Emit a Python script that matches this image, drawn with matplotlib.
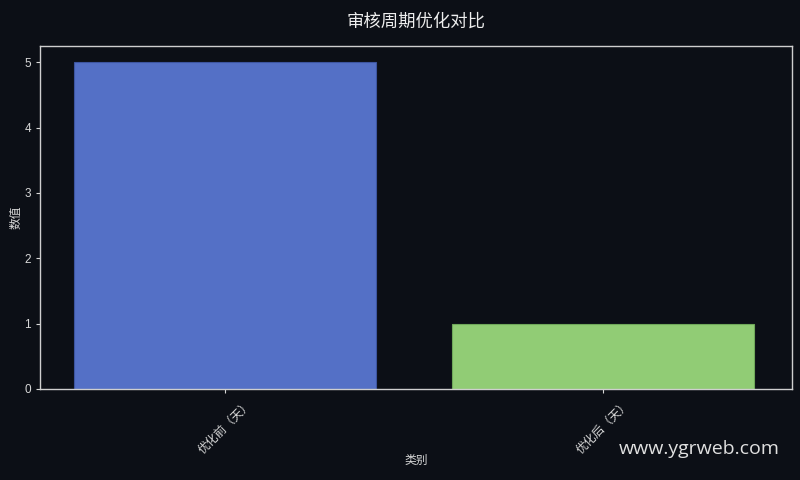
import numpy as np
import matplotlib
matplotlib.use("Agg")
import matplotlib.pyplot as plt

# data
categories = ["优化前（天）", "优化后（天）"]
values = [5, 1]
bar_colors = ["#5470c6", "#91cc75"]
edge_colors = ["#3d55a0", "#6fa85a"]

plt.rcParams['font.family'] = ['Liberation Sans', 'Noto Sans CJK SC', 'DejaVu Sans']

bg = "#0c0f16"
fg = "#d8d8d8"

fig = plt.figure(figsize=(8, 4.8), dpi=100, facecolor=bg)
ax = fig.add_axes([0.05, 0.19, 0.94, 0.714])
ax.set_facecolor(bg)

x = np.arange(len(categories))
ax.bar(x, values, width=0.8, color=bar_colors, edgecolor=edge_colors, linewidth=0.8)

ax.set_xlim(-0.49, len(categories) - 0.5)
ax.set_ylim(0, 5.25)
ax.set_xticks(x)
ax.set_xticklabels(categories, rotation=45, ha='center', fontsize=8.5, color=fg)
ax.set_yticks(range(0, 6))
ax.tick_params(axis='y', labelsize=8.5, colors=fg, length=3)
ax.tick_params(axis='x', colors=fg, length=3)
for s in ax.spines.values():
    s.set_color("#cfcfcf")
    s.set_linewidth(1.0)

ax.set_xlabel("类别", fontsize=8.5, color=fg, labelpad=-1)
ax.set_ylabel("数值", fontsize=8.5, color=fg, labelpad=1)
ax.set_title("审核周期优化对比", fontsize=12.5, color="#eeeeee", pad=14)

fig.text(0.975, 0.065, "www.ygrweb.com", fontsize=14, color="#e0e0e0",
         ha='right', va='center', family=['Open Sans', 'DejaVu Sans'])

fig.savefig("out.png", dpi=100, facecolor=bg)
